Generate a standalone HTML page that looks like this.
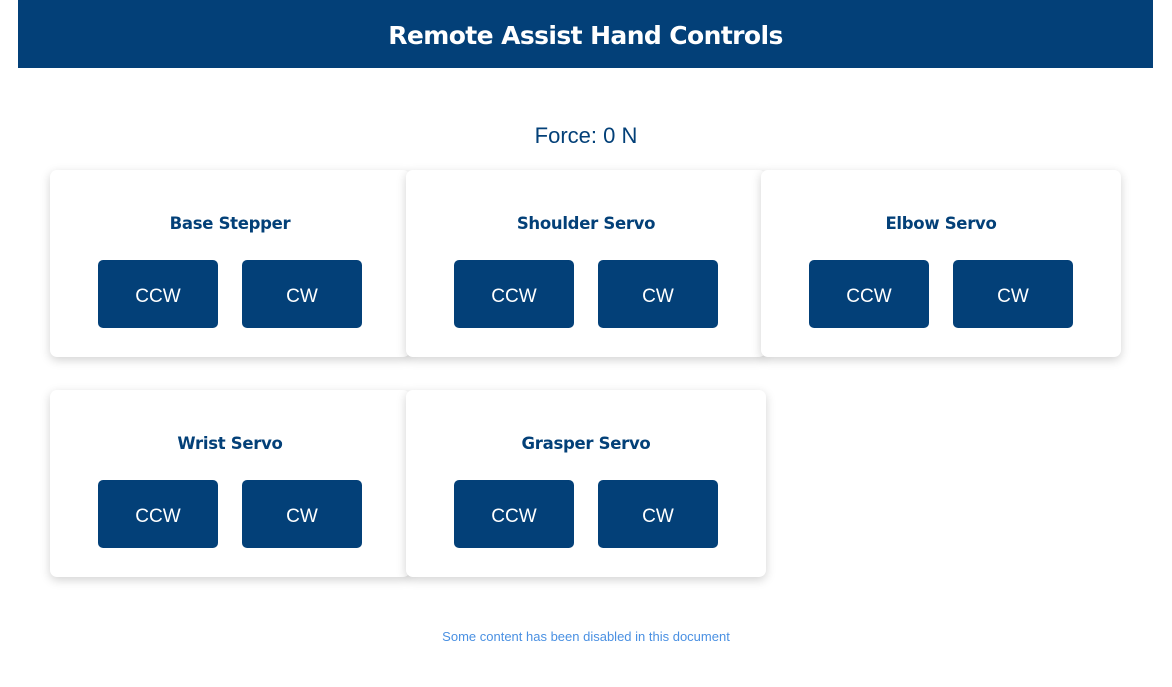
<!DOCTYPE html>
<html><head><style>
body{margin:0;width:1172px;height:687px;background:#fff;position:relative;font-family:"Liberation Sans",sans-serif;overflow:hidden}
.hdr{position:absolute;left:18px;top:0;width:1135px;height:68px;background:#034078;color:#fff;font-weight:bold;font-size:25px;text-align:center;line-height:72px;font-family:"DejaVu Sans","Liberation Sans",sans-serif;letter-spacing:-0.6px}
.force{position:absolute;left:0;width:1172px;top:123px;text-align:center;font-size:22px;color:#034078}
.card{position:absolute;width:360px;height:187px;background:#fff;border-radius:7px;box-shadow:0 3px 10px rgba(0,0,0,0.18)}
.card h3{position:absolute;top:44px;left:0;width:360px;margin:0;text-align:center;font-size:16.5px;color:#034078;font-family:"DejaVu Sans","Liberation Sans",sans-serif;font-weight:bold;letter-spacing:-0.3px}
.b{position:absolute;top:90px;width:120px;height:68px;background:#034078;border-radius:5px;color:#fff;font-size:19px;text-align:center;line-height:73px}
.b1{left:48px}.b2{left:192px}
.foot{position:absolute;left:0;width:1172px;top:629px;text-align:center;font-size:13px;color:#4a90e2}
</style></head><body>
<div class="hdr">Remote Assist Hand Controls</div>
<div class="force">Force: 0 N</div>
<div class="card" style="left:50px;top:170px"><h3>Base Stepper</h3><div class="b b1">CCW</div><div class="b b2">CW</div></div>
<div class="card" style="left:406px;top:170px"><h3>Shoulder Servo</h3><div class="b b1">CCW</div><div class="b b2">CW</div></div>
<div class="card" style="left:761px;top:170px"><h3>Elbow Servo</h3><div class="b b1">CCW</div><div class="b b2">CW</div></div>
<div class="card" style="left:50px;top:390px"><h3>Wrist Servo</h3><div class="b b1">CCW</div><div class="b b2">CW</div></div>
<div class="card" style="left:406px;top:390px"><h3>Grasper Servo</h3><div class="b b1">CCW</div><div class="b b2">CW</div></div>
<div class="foot">Some content has been disabled in this document</div>
</body></html>
